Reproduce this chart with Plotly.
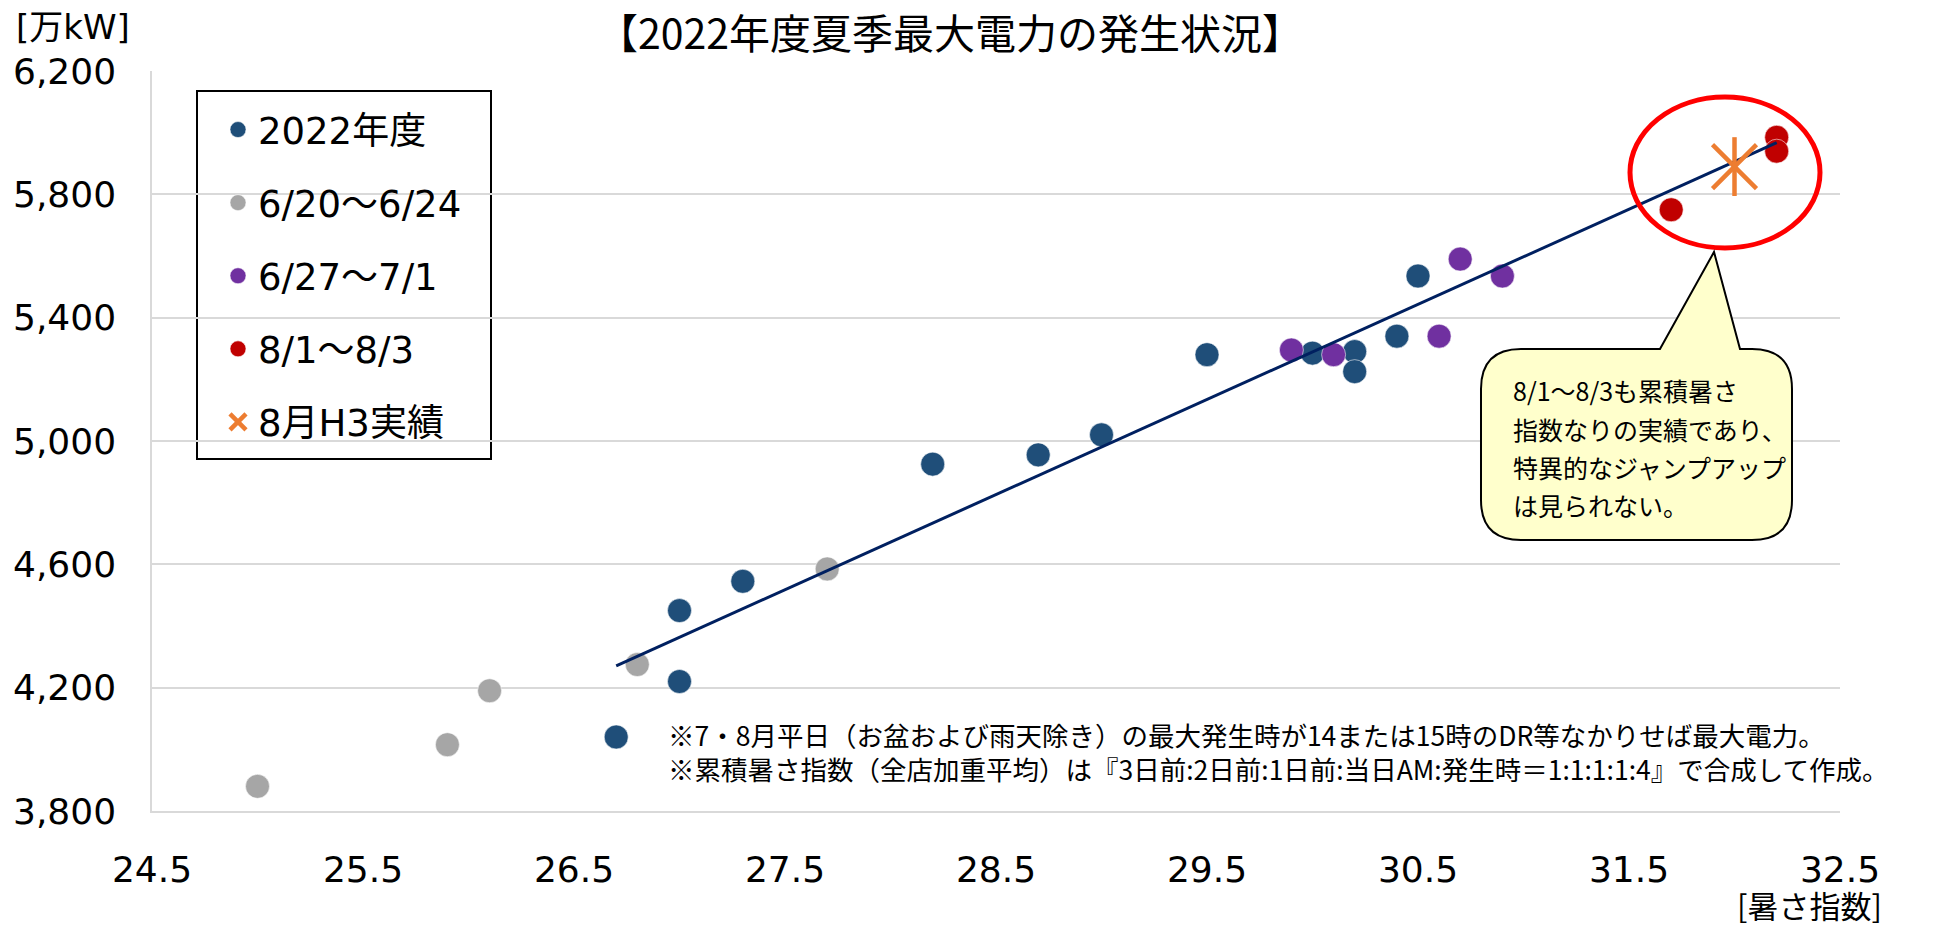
import numpy as np
import plotly.graph_objects as go

# 2022年度 (7・8月平日)
fy2022_x = [26.7, 27.0, 27.0, 27.3, 28.2, 28.7, 29.0, 29.5, 30.0, 30.2, 30.2, 30.4, 30.5]
fy2022_y = [4040, 4220, 4450, 4545, 4925, 4955, 5020, 5280, 5285, 5290, 5225, 5340, 5535]
# 6/20～6/24
jun20_x = [25.0, 25.9, 26.1, 26.8, 27.7]
jun20_y = [3880, 4015, 4190, 4275, 4585]
# 6/27～7/1
jun27_x = [29.9, 30.1, 30.6, 30.7, 30.9]
jun27_y = [5295, 5280, 5340, 5590, 5535]
# 8/1～8/3
aug_x = [31.7, 32.2, 32.2]
aug_y = [5750, 5985, 5940]
# 8月H3実績
h3_x = [32.0]
h3_y = [5890]

x_ticks = [24.5, 25.5, 26.5, 27.5, 28.5, 29.5, 30.5, 31.5, 32.5]
y_ticks = [3800, 4200, 4600, 5000, 5400, 5800, 6200]

callout_lines = [
    "8/1～8/3も累積暑さ",
    "指数なりの実績であり、",
    "特異的なジャンプアップ",
    "は見られない。",
]
note_lines = [
    "※7・8月平日（お盆および雨天除き）の最大発生時が14または15時のDR等なかりせば最大電力。",
    "※累積暑さ指数（全店加重平均）は『3日前:2日前:1日前:当日AM:発生時＝1:1:1:1:4』で合成して作成。",
]

# page pixels; the html body adds an 8px offset, so the figure is shrunk by it
OFF = 8
PAGE_W, PAGE_H = 1935, 925
W, H = PAGE_W - OFF, PAGE_H - OFF
L, R, T, B = 152, 1840, 71, 811
LATIN = "DejaVu Sans, Noto Sans CJK JP"
CJK = "Noto Sans CJK JP, DejaVu Sans"
ORANGE = "#ED7D31"


def px(x):
    return (x - L) / (R - L)


def py(y):
    return (B - y) / (B - T)


# trend line over the 2022 weekday series (incl. 8/1-8/3)
tx = np.array(fy2022_x + aug_x)
ty = np.array(fy2022_y + aug_y)
slope, icpt = np.polyfit(tx, ty, 1)
trend_x = [tx.min(), tx.max()]
trend_y = [slope * v + icpt for v in trend_x]

fig = go.Figure()


def dots(x, y, name, color):
    fig.add_trace(go.Scatter(
        x=x, y=y, mode="markers", name=name, legendgroup=name,
        marker=dict(size=24, color=color, line=dict(width=0.8, color="rgba(255,255,255,0.7)")),
    ))


dots(fy2022_x, fy2022_y, "2022年度", "#1F4E79")
dots(jun20_x, jun20_y, "6/20～6/24", "#A6A6A6")
dots(jun27_x, jun27_y, "6/27～7/1", "#7030A0")
dots(aug_x, aug_y, "8/1～8/3", "#C00000")

fig.add_trace(go.Scatter(
    x=trend_x, y=trend_y, mode="lines", showlegend=False, hoverinfo="skip",
    line=dict(color="#002060", width=3),
))

fig.add_trace(go.Scatter(
    x=h3_x, y=h3_y, mode="markers", name="8月H3実績", legendgroup="h3",
    marker=dict(symbol="x-thin-open", size=44, color=ORANGE, line=dict(width=4.5, color=ORANGE)),
))
fig.add_trace(go.Scatter(
    x=h3_x, y=h3_y, mode="markers", showlegend=False, legendgroup="h3", hoverinfo="skip",
    marker=dict(symbol="line-ns-open", size=42, color=ORANGE, line=dict(width=4.5, color=ORANGE)),
))

# callout bubble (pixel geometry)
bx0, bx1, by0, by1, rad = 1481, 1792, 349, 540, 40
tip = (1714, 252)
base_l, base_r = 1660, 1740


def pt(x, y):
    return f"{px(x):.5f},{py(y):.5f}"


bubble = (
    f"M{pt(bx0 + rad, by0)} L{pt(base_l, by0)} L{pt(*tip)} L{pt(base_r, by0)} "
    f"L{pt(bx1 - rad, by0)} Q{pt(bx1, by0)} {pt(bx1, by0 + rad)} "
    f"L{pt(bx1, by1 - rad)} Q{pt(bx1, by1)} {pt(bx1 - rad, by1)} "
    f"L{pt(bx0 + rad, by1)} Q{pt(bx0, by1)} {pt(bx0, by1 - rad)} "
    f"L{pt(bx0, by0 + rad)} Q{pt(bx0, by0)} {pt(bx0 + rad, by0)} Z"
)

shapes = [
    # legend frame
    dict(type="rect", xref="paper", yref="paper", layer="between",
         x0=px(197), x1=px(491), y0=py(459), y1=py(91),
         fillcolor="white", line=dict(color="black", width=2)),
    dict(type="circle", xref="paper", yref="paper",
         x0=px(1630), x1=px(1820), y0=py(97), y1=py(248),
         line=dict(color="#FF0000", width=5)),
    dict(type="path", xref="paper", yref="paper", path=bubble,
         fillcolor="#FFFFCC", line=dict(color="black", width=2)),
]

annotations = [
    dict(text="[万kW]", xref="paper", yref="paper", x=px(14), y=py(27),
         xanchor="left", yanchor="middle", showarrow=False,
         font=dict(family=LATIN, size=34, color="black")),
    dict(text="[暑さ指数]", xref="paper", yref="paper", x=px(1884), y=py(904),
         xanchor="right", yanchor="middle", showarrow=False,
         font=dict(family=CJK, size=31, color="black")),
    dict(text="<br>".join(note_lines), xref="paper", yref="paper", x=px(666), y=py(751),
         xanchor="left", yanchor="middle", align="left", showarrow=False,
         font=dict(family=CJK, size=26.5, color="black")),
]
for i, line in enumerate(callout_lines):
    annotations.append(dict(
        text=line, xref="paper", yref="paper", x=px(1511), y=py(390 + 38.5 * i),
        xanchor="left", yanchor="middle", showarrow=False,
        font=dict(family=CJK, size=25, color="black"),
    ))

fig.update_layout(
    width=W, height=H, autosize=False,
    margin=dict(l=L - OFF, r=PAGE_W - R, t=T - OFF, b=PAGE_H - B, autoexpand=False),
    paper_bgcolor="white", plot_bgcolor="white",
    title=dict(text="【2022年度夏季最大電力の発生状況】", x=(950 - OFF) / W, xref="container",
               xanchor="center", y=1 - (35 - OFF) / H, yref="container", yanchor="middle",
               font=dict(family=CJK, size=41, color="black")),
    xaxis=dict(range=[24.5, 32.5], tickvals=x_ticks, ticktext=[f"{v:.1f}" for v in x_ticks],
               showgrid=False, zeroline=False, showline=True, linecolor="#D9D9D9", linewidth=1.5,
               ticks="", ticklabelstandoff=26, automargin=False,
               tickfont=dict(family=LATIN, size=36, color="black")),
    yaxis=dict(range=[3800, 6200], tickvals=y_ticks, tickformat=",d",
               showgrid=True, gridcolor="#D9D9D9", gridwidth=1.5, zeroline=False,
               showline=True, linecolor="#D9D9D9", linewidth=1.5,
               ticks="", ticklabelstandoff=27, automargin=False,
               tickfont=dict(family=LATIN, size=36, color="black")),
    legend=dict(x=px(218), y=py(99), xanchor="left", yanchor="top",
                bgcolor="rgba(0,0,0,0)", borderwidth=0,
                font=dict(family=LATIN, size=37, color="black"),
                traceorder="grouped", tracegroupgap=22),
    shapes=shapes,
    annotations=annotations,
    showlegend=True,
)

fig.write_html("out.html")
